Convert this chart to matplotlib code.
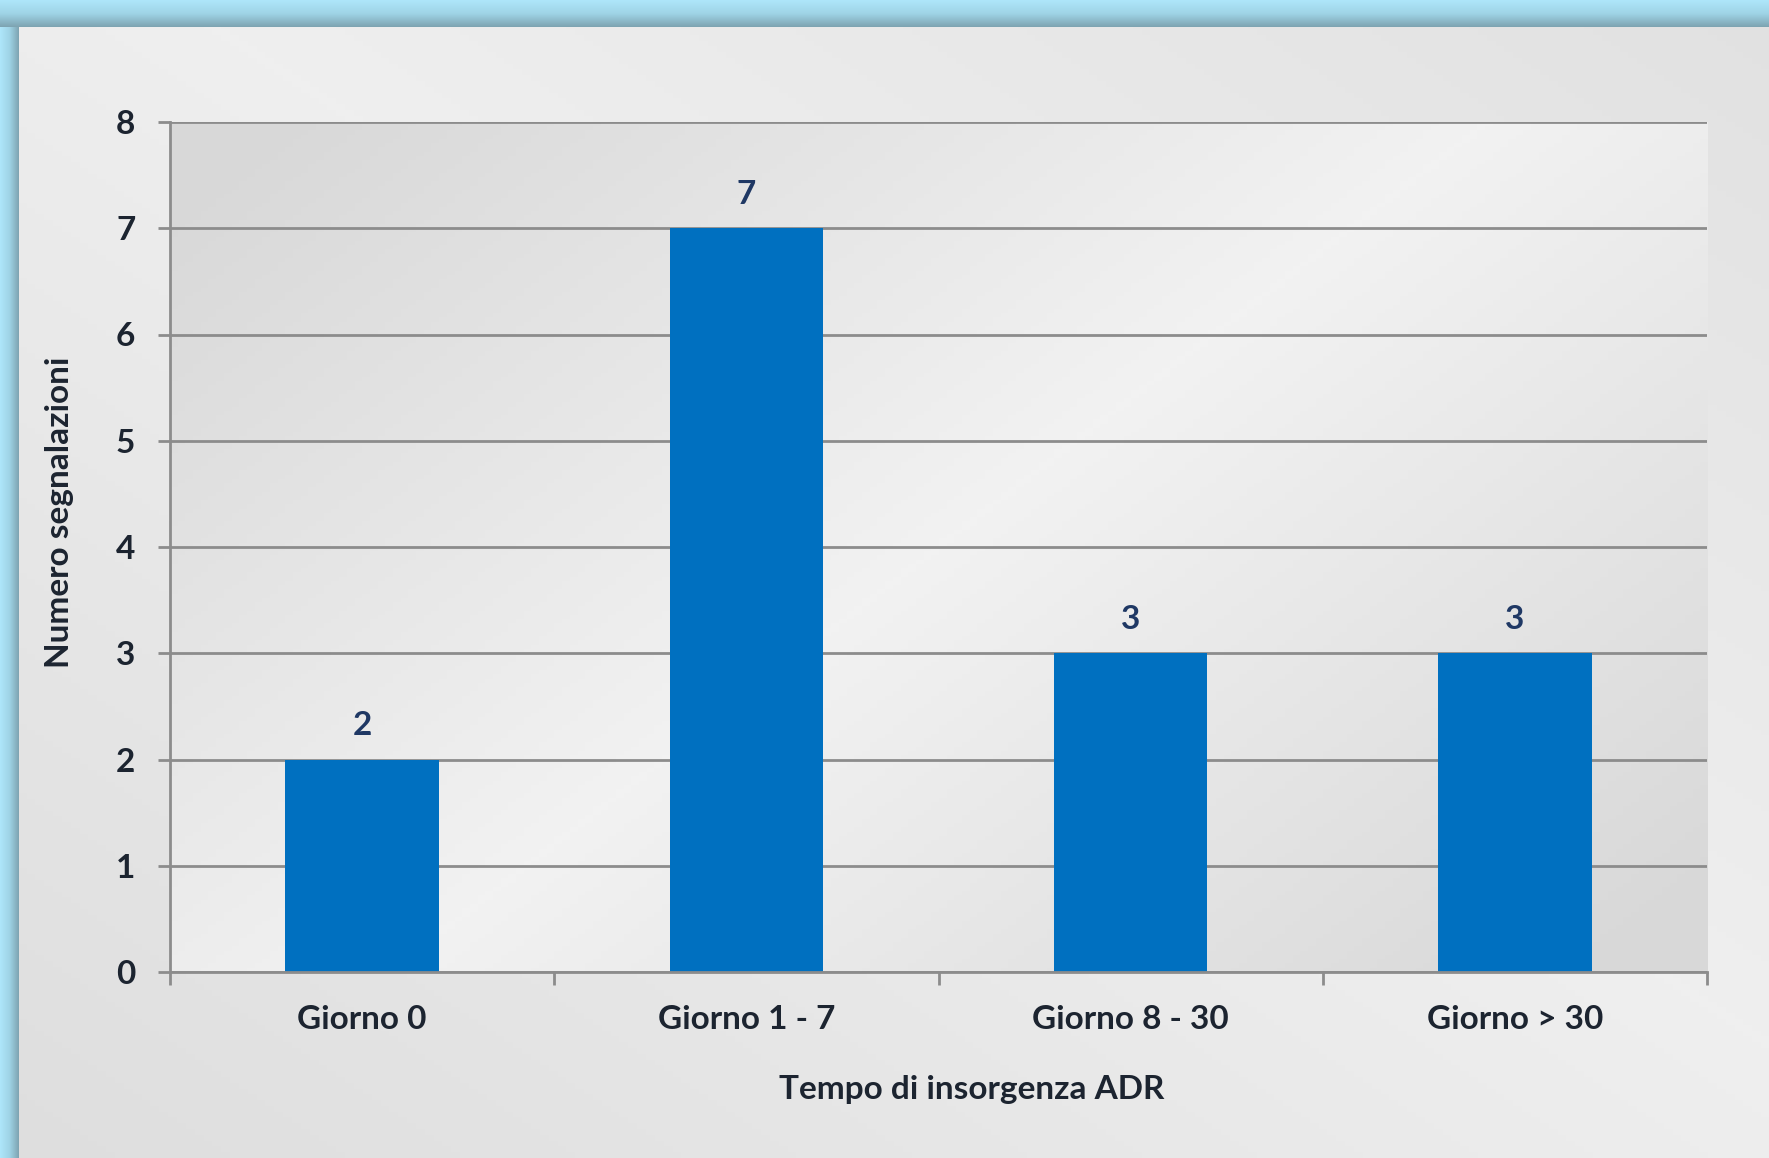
import numpy as np
import matplotlib.pyplot as plt
from matplotlib.colors import LinearSegmentedColormap

categorie = ["Giorno 0", "Giorno 1 - 7", "Giorno 8 - 30", "Giorno > 30"]
segnalazioni = [2, 7, 3, 3]
y_ticks = [0, 1, 2, 3, 4, 5, 6, 7, 8]

plt.rcParams['font.family'] = ['Lato', 'DejaVu Sans']
plt.rcParams['font.weight'] = 'bold'

W, H = 1769, 1158
FS = 24
fig = plt.figure(figsize=(W / 100, H / 100), dpi=100)

# background of the slide (light gray gradient)
bg = fig.add_axes([0, 0, 1, 1], zorder=-10)
xx, yy = np.meshgrid(np.linspace(0, 1, 200), np.linspace(0, 1, 200))
g = 1 - np.abs((xx + (1 - yy)) / 2 - 0.55) * 1.4
cmap_bg = LinearSegmentedColormap.from_list("bg", ["#dedede", "#efefef"])
bg.imshow(g, cmap=cmap_bg, extent=[0, 1, 0, 1], aspect='auto', origin='upper')
# blue frame at top and left
top = np.linspace(0, 1, 50).reshape(-1, 1)
cmap_fr = LinearSegmentedColormap.from_list("fr", ["#aee6fa", "#9fd4e6", "#7ea4b2"])
bg.imshow(top, cmap=cmap_fr, extent=[0, 1, 1 - 27 / H, 1], aspect='auto', origin='upper')
left = np.linspace(0, 1, 50).reshape(1, -1)
bg.imshow(left, cmap=cmap_fr, extent=[0, 18 / W, 0, 1 - 27 / H], aspect='auto', origin='lower')
bg.set_xlim(0, 1)
bg.set_ylim(0, 1)
bg.axis('off')

ax = fig.add_axes([170 / W, 1 - 972 / H, (1707 - 170) / W, (972 - 122) / H])
ax.set_facecolor('none')

# plot area gradient (darker at the corners)
xx2, yy2 = np.meshgrid(np.linspace(-1, 1, 200), np.linspace(-1, 1, 200))
g2 = 1 - np.clip(np.abs(xx2 * 0.7 + yy2 * 0.5) * 0.9, 0, 1)
cmap_pa = LinearSegmentedColormap.from_list("pa", ["#d8d8d8", "#f2f2f2"])
ax.imshow(g2, cmap=cmap_pa, extent=[-0.5, 3.5, 0, 8], aspect='auto', zorder=0)

x = np.arange(len(categorie))
ax.bar(x, segnalazioni, width=0.4, color="#0070c0", zorder=3)

ax.set_xlim(-0.5, 3.5)
ax.set_ylim(0, 8)
ax.set_yticks(y_ticks)
ax.grid(axis='y', color="#8c8c8c", linewidth=2, zorder=2)
ax.set_axisbelow(False)

for sp in ['top', 'right']:
    ax.spines[sp].set_visible(False)
ax.spines['left'].set_color("#8c8c8c")
ax.spines['bottom'].set_color("#8c8c8c")
ax.spines['left'].set_linewidth(2)
ax.spines['bottom'].set_linewidth(2)
ax.spines['bottom'].set_zorder(4)

ax.set_xticks(np.arange(-0.5, 4, 1))
ax.set_xticklabels([])
ax.set_xticks(x, minor=True)
ax.set_xticklabels(categorie, minor=True, fontsize=FS, fontweight='bold', color="#1c2430")
ax.tick_params(axis='x', which='major', length=9, width=2, color="#8c8c8c", direction='out')
ax.tick_params(axis='x', which='minor', length=0, pad=24)
ax.tick_params(axis='y', length=9, width=2, color="#8c8c8c", pad=16,
               labelsize=FS, labelcolor="#1c2430")
for lab in ax.get_yticklabels():
    lab.set_fontweight('bold')

for xi, v in zip(x, segnalazioni):
    ax.annotate(str(v), (xi, v), xytext=(0, 14), textcoords='offset points',
                ha='center', va='bottom', fontsize=FS, fontweight='bold', color="#1f3864")

fig.text(60 / W, 1 - 512 / H, "Numero segnalazioni", rotation=90, ha='center', va='center',
         fontsize=FS, fontweight='bold', color="#1c2430")
fig.text(972 / W, 1 - 1090 / H, "Tempo di insorgenza ADR", ha='center', va='center',
         fontsize=FS, fontweight='bold', color="#1c2430")

fig.savefig("out.png", dpi=100)
